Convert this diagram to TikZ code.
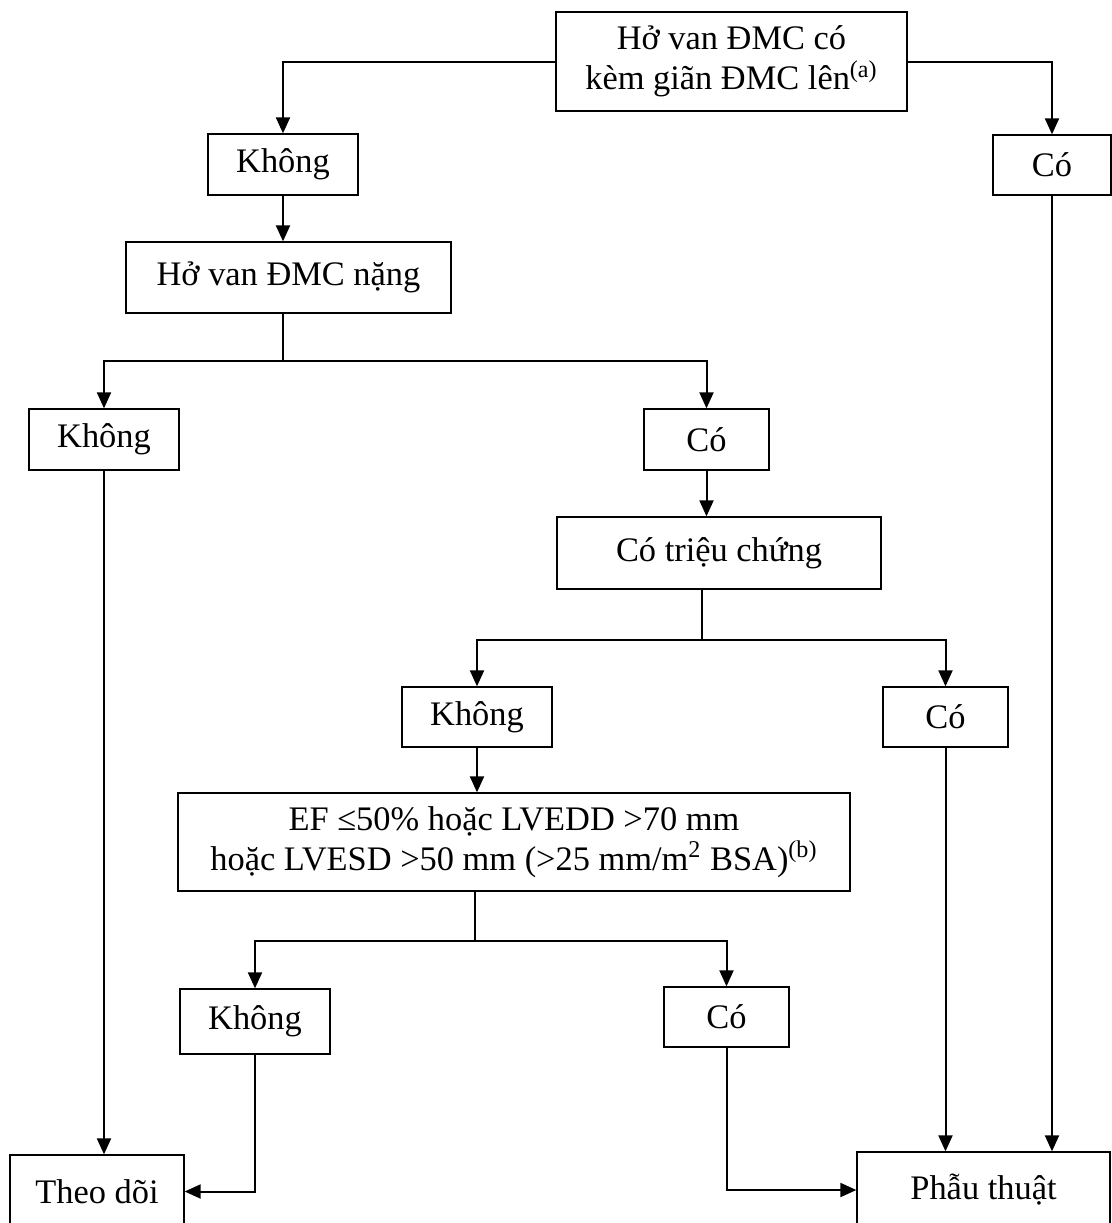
\documentclass[tikz,border=0pt]{standalone}
\usepackage{fontspec}
\setmainfont{Liberation Serif}
\usetikzlibrary{arrows.meta, positioning, calc}

\begin{document}
\begin{tikzpicture}[x=0.5pt, y=-0.5pt,
      box/.style={draw, line width=0.65pt, inner sep=0pt, align=center,
                  font=\fontsize{17.2}{20}\selectfont},
      arr/.style={-{Triangle[length=8pt, width=7pt]}, line width=1pt},
      stem/.style={line width=0.65pt}]
    \useasboundingbox (0,0) rectangle (1112,1223);
    \node[box, minimum width=175.5pt, minimum height=49.5pt] (HV) at (731.5,61.5)
      {Hở van ĐMC có\\kèm giãn ĐMC lên\textsuperscript{(a)}};
    \node[box, minimum width=162.5pt, minimum height=35.5pt] (HVN) at (288.5,277.5)
      {Hở van ĐMC nặng};
    \node[box, minimum width=162pt, minimum height=36pt] (TC) at (719,553)
      {Có triệu chứng};
    \node[box, minimum width=336pt, minimum height=49pt] (EF) at (514,842)
      {EF ≤50\% hoặc LVEDD >70 mm\\hoặc LVESD >50 mm (>25 mm/m\textsuperscript{2} BSA)\textsuperscript{(b)}};
    \node[box, minimum width=87pt, minimum height=36.5pt] (TD) at (97,1191.5) {Theo dõi};
    \node[box, minimum width=126.5pt, minimum height=38pt] (PT) at (983.5,1190) {Phẫu thuật};
    % cac o Khong / Co
    \foreach \nm/\lbl/\x/\y/\w/\h in {K1/Không/283/164.5/75pt/30.5pt,
        C1/Có/1052/165/59pt/30pt, K2/Không/104/439.5/75pt/30.5pt,
        C2/Có/706.5/439.5/62.5pt/30.5pt, K3/Không/477/717/75pt/30pt,
        C3/Có/945.5/717/62.5pt/30pt, K4/Không/255/1021.5/75pt/32.5pt,
        C4/Có/726.5/1017/62.5pt/30pt} {
      \node[box, minimum width=\w, minimum height=\h] (\nm) at (\x,\y) {\lbl};
    }
    \coordinate (J1) at (283,361);
    \coordinate (J2) at (702,640);
    \coordinate (J3) at (475,941);

    \draw[arr] (HV.west) -| (K1.north);
    \draw[arr] (HV.east) -| (C1.north);
    \draw[arr] (K1.south) -- (K1.south |- HVN.north);
    \draw[stem] (HVN.south -| J1) -- (J1);
    \draw[arr] (J1) -| (K2.north);
    \draw[arr] (J1) -| (C2.north);
    \draw[arr] (C2.south) -- (C2.south |- TC.north);
    \draw[stem] (TC.south -| J2) -- (J2);
    \draw[arr] (J2) -| (K3.north);
    \draw[arr] (J2) -| (C3.north);
    \draw[arr] (K3.south) -- (K3.south |- EF.north);
    \draw[stem] (EF.south -| J3) -- (J3);
    \draw[arr] (J3) -| (K4.north);
    \draw[arr] (J3) -| (C4.north);
    % ve Theo doi / Phau thuat
    \draw[arr] (K2.south) -- (K2.south |- TD.north);
    \draw[arr] (K4.south) |- (TD.east);
    \draw[arr] (C4.south) |- (PT.west);
    \draw[arr] (C3.south) -- (C3.south |- PT.north);
    \draw[arr] (C1.south) -- (C1.south |- PT.north);
  \end{tikzpicture}
\end{document}
